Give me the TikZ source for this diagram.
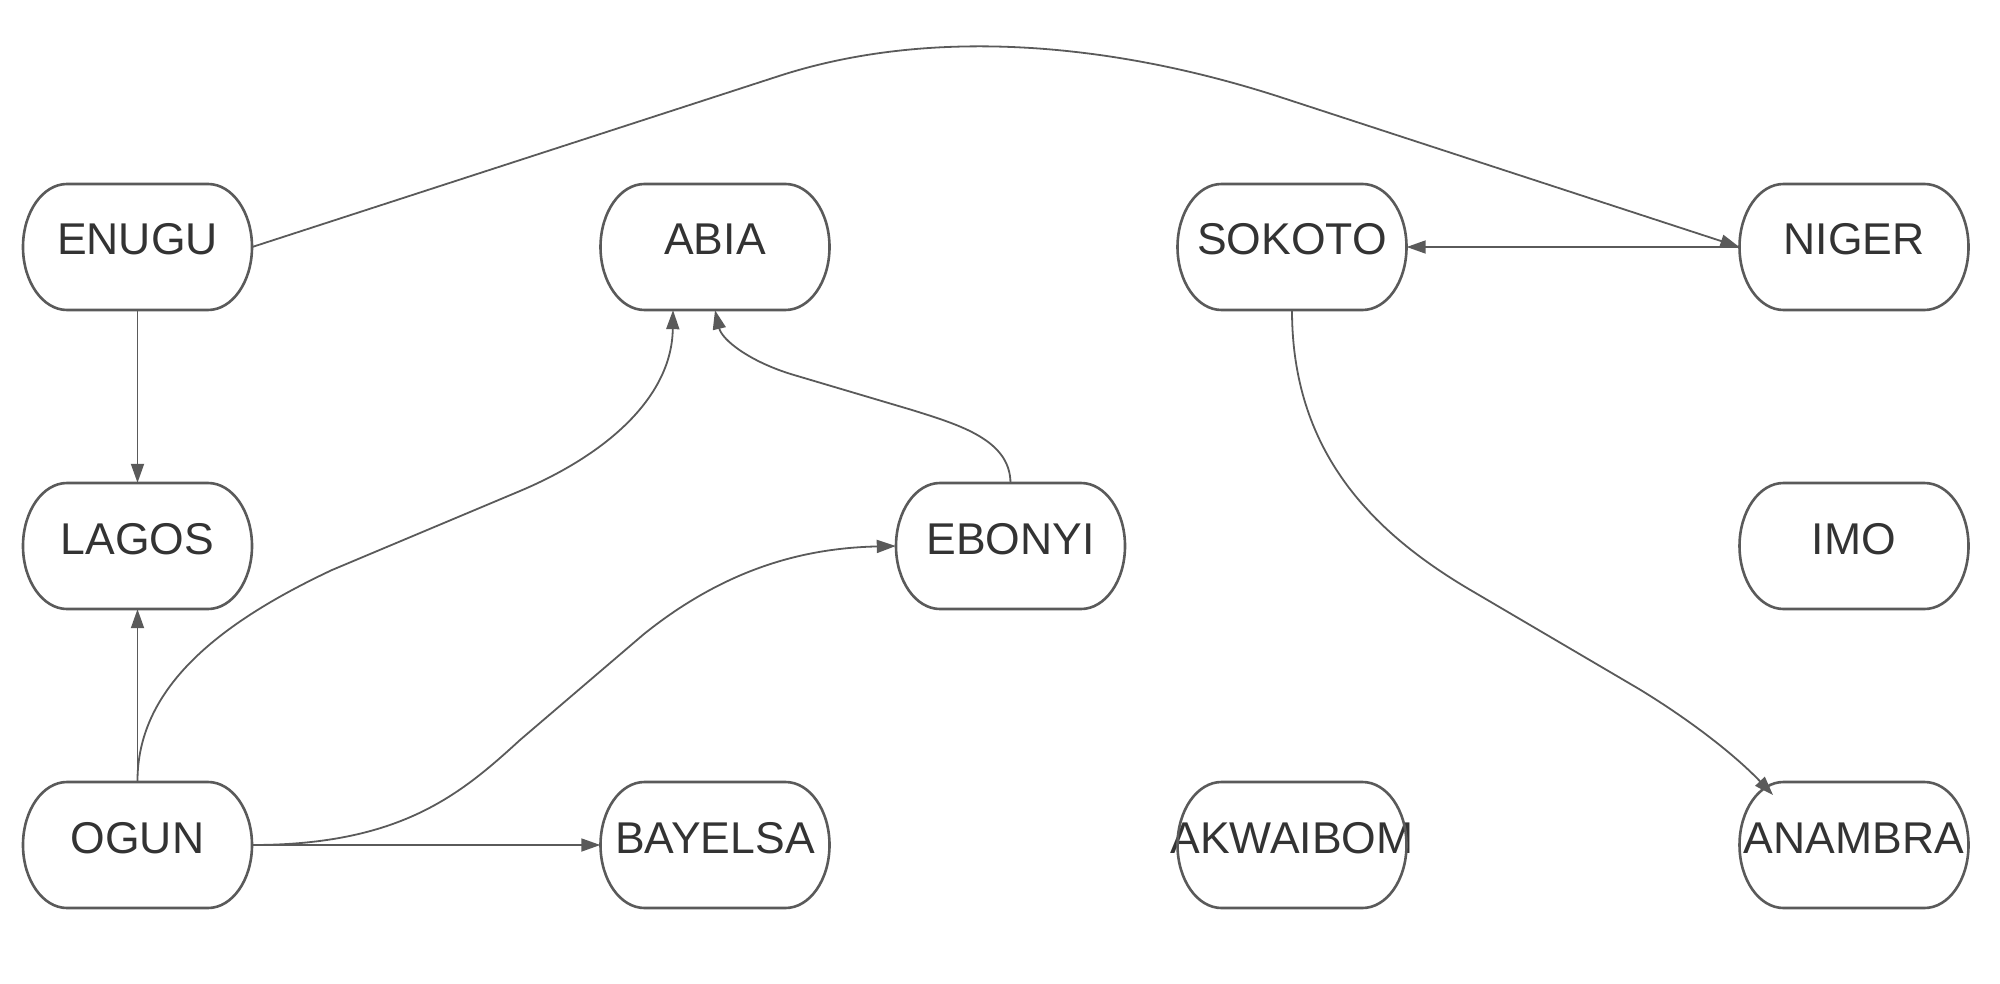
\documentclass[tikz,border=0pt]{standalone}
\usepackage{fontspec}
\setmainfont{Liberation Sans}
\usetikzlibrary{arrows.meta}
\definecolor{linec}{HTML}{5A5A5A}
\definecolor{textc}{HTML}{333333}
\begin{document}
\begin{tikzpicture}[x=1pt,y=-1pt,
  box/.style={minimum width=229pt,minimum height=126pt,inner sep=0pt,
    font=\fontsize{44.5}{46}\selectfont,text=textc,text height=32pt,text depth=16pt},
  boxline/.style={draw=linec,line width=2.6pt},
  conn/.style={draw=linec,line width=1.8pt},
  arr/.style={conn,-{Triangle[length=19pt,width=13pt]}}]
\useasboundingbox (0,0) rectangle (2000,984);
\node[box] (enugu) at (137.5,247) {ENUGU};
\node[box] (abia) at (715,247) {ABIA};
\node[box] (sokoto) at (1292,247) {SOKOTO};
\node[box] (niger) at (1854,247) {NIGER};
\node[box] (lagos) at (137.5,546) {LAGOS};
\node[box] (ebonyi) at (1010.5,546) {EBONYI};
\node[box] (imo) at (1854,546) {IMO};
\node[box] (ogun) at (137.5,845) {OGUN};
\node[box] (bayelsa) at (715,845) {BAYELSA};
\node[box] (akwaibom) at (1292,845) {AKWAIBOM};
\node[box] (anambra) at (1854,845) {ANAMBRA};
\foreach \n in {enugu,abia,sokoto,niger,lagos,ebonyi,imo,ogun,bayelsa,akwaibom,anambra}{
  \draw[boxline] ([xshift=-70.5pt,yshift=63pt]\n.center) -- ([xshift=70.5pt,yshift=63pt]\n.center)
    arc[start angle=90,end angle=-90,x radius=44pt,y radius=63pt]
    -- ([xshift=-70.5pt,yshift=-63pt]\n.center)
    arc[start angle=270,end angle=90,x radius=44pt,y radius=63pt] -- cycle;
}
% connectors
\draw[arr] (enugu.east) -- (779,76) .. controls (930,27) and (1110,42) .. (1280,97) -- (niger.west);
\draw[arr] (niger.west) -- (sokoto.east);
\draw[arr] (enugu.south) -- (lagos.north);
\draw[arr] (ogun.north) -- (lagos.south);
\draw[arr] (ogun.north) .. controls (137,690) and (215,625) .. (332,570) -- (520,491)
  .. controls (610,453) and (672,395) .. ([xshift=-42pt]abia.south);
\draw[arr] (ogun.east) .. controls (400,845) and (460,795) .. (520,740) -- (644,634)
  .. controls (730,565) and (810,548) .. (ebonyi.west);
\draw[arr] (ogun.east) -- (bayelsa.west);
\draw[arr] (ebonyi.north) .. controls (1010,440) and (960,425) .. (912,410) -- (794,375)
  .. controls (750,362) and (722,340) .. (abia.south);
\coordinate (anin) at (1773,795);
\draw[arr] (sokoto.south) .. controls (1292,450) and (1370,530) .. (1467,588) -- (1639,689)
  .. controls (1690,720) and (1735,755) .. (anin);
\end{tikzpicture}
\end{document}
